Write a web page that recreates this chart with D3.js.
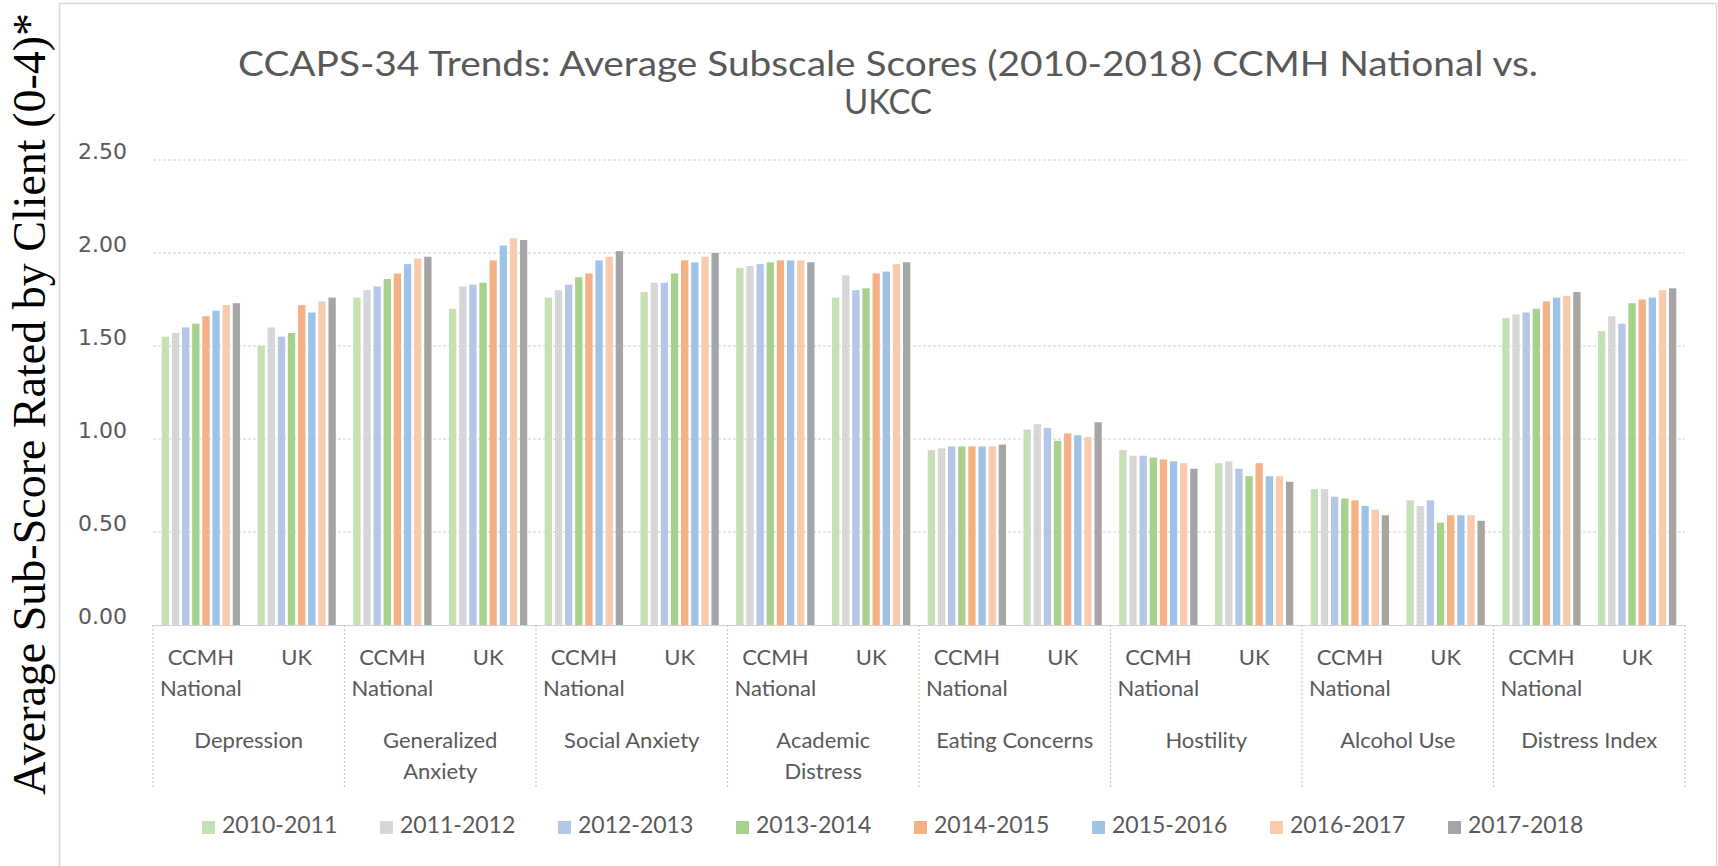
<!DOCTYPE html>
<html>
<head>
<meta charset="utf-8">
<script src="https://cdn.jsdelivr.net/npm/d3@7"></script>
<style>
  body { margin: 0; background: #fff; }
  svg text { font-family: Lato, "Open Sans", sans-serif; }
</style>
</head>
<body>
<svg class="chart" width="1718" height="866"></svg>
<script>
// categories and the two groups inside each one
const categories = ["Depression", "Generalized\nAnxiety", "Social Anxiety", "Academic\nDistress",
  "Eating Concerns", "Hostility", "Alcohol Use", "Distress Index"];
const groups = ["CCMH\nNational", "UK"];
const years = ["2010-2011", "2011-2012", "2012-2013", "2013-2014", "2014-2015", "2015-2016", "2016-2017", "2017-2018"];
const yTicks = [0, 0.5, 1, 1.5, 2, 2.5];

// one array per category and group, values in year order
const depressionCCMH = [1.55, 1.57, 1.60, 1.62, 1.66, 1.69, 1.72, 1.73];
const depressionUK   = [1.50, 1.60, 1.55, 1.57, 1.72, 1.68, 1.74, 1.76];
const genAnxCCMH     = [1.76, 1.80, 1.82, 1.86, 1.89, 1.94, 1.97, 1.98];
const genAnxUK       = [1.70, 1.82, 1.83, 1.84, 1.96, 2.04, 2.08, 2.07];
const socAnxCCMH     = [1.76, 1.80, 1.83, 1.87, 1.89, 1.96, 1.98, 2.01];
const socAnxUK       = [1.79, 1.84, 1.84, 1.89, 1.96, 1.95, 1.98, 2.00];
const academicCCMH   = [1.92, 1.93, 1.94, 1.95, 1.96, 1.96, 1.96, 1.95];
const academicUK     = [1.76, 1.88, 1.80, 1.81, 1.89, 1.90, 1.94, 1.95];
const eatingCCMH     = [0.94, 0.95, 0.96, 0.96, 0.96, 0.96, 0.96, 0.97];
const eatingUK       = [1.05, 1.08, 1.06, 0.99, 1.03, 1.02, 1.01, 1.09];
const hostilityCCMH  = [0.94, 0.91, 0.91, 0.90, 0.89, 0.88, 0.87, 0.84];
const hostilityUK    = [0.87, 0.88, 0.84, 0.80, 0.87, 0.80, 0.80, 0.77];
const alcoholCCMH    = [0.73, 0.73, 0.69, 0.68, 0.67, 0.64, 0.62, 0.59];
const alcoholUK      = [0.67, 0.64, 0.67, 0.55, 0.59, 0.59, 0.59, 0.56];
const distressCCMH   = [1.65, 1.67, 1.68, 1.70, 1.74, 1.76, 1.77, 1.79];
const distressUK     = [1.58, 1.66, 1.62, 1.73, 1.75, 1.76, 1.80, 1.81];

const seriesByCategory = [
  [depressionCCMH, depressionUK], [genAnxCCMH, genAnxUK], [socAnxCCMH, socAnxUK],
  [academicCCMH, academicUK], [eatingCCMH, eatingUK], [hostilityCCMH, hostilityUK],
  [alcoholCCMH, alcoholUK], [distressCCMH, distressUK]
];

const colors = ["#c5e0b4", "#d9d9d9", "#b4c7e7", "#a9d18e", "#f4b183", "#9dc3e6", "#f8cbad", "#a5a5a5"];

let svg = d3.select(".chart");

let plotLeft = 153, plotRight = 1685, plotTop = 160, plotBottom = 625;

// dotted fill used by the 2011-2012 bars
let defs = svg.append("defs");
let pat = defs.append("pattern")
  .attr("id", "dots")
  .attr("width", 4).attr("height", 4)
  .attr("patternUnits", "userSpaceOnUse");
pat.append("rect").attr("width", 4).attr("height", 4).attr("fill", "#dadada");
pat.append("rect").attr("x", 1).attr("y", 1).attr("width", 1.3).attr("height", 1.3).attr("fill", "#c4c4c4");
pat.append("rect").attr("x", 3).attr("y", 3).attr("width", 1.3).attr("height", 1.3).attr("fill", "#c8c8c8");

function fillOf(i) {
  return i === 1 ? "url(#dots)" : colors[i];
}

// chart area frame
svg.append("rect")
  .attr("x", 59.5).attr("y", 3.5)
  .attr("width", 1657).attr("height", 900)
  .attr("fill", "none")
  .attr("stroke", "#d9d9d9")
  .attr("stroke-width", 1.5);

let y = d3.scaleLinear().domain([0, 2.5]).range([plotBottom, plotTop]);

let x0 = d3.scaleBand().domain(categories).range([plotLeft, plotRight]);
let x1 = d3.scaleBand().domain(groups).range([0, x0.bandwidth()]);
let x2 = d3.scaleBand().domain(years).range([0, x1.bandwidth()])
  .paddingInner(0.28).paddingOuter(0.86);

// gridlines
svg.append("g")
  .selectAll("line")
  .data(yTicks.filter(d => d > 0))
  .enter().append("line")
  .attr("x1", plotLeft).attr("x2", plotRight)
  .attr("y1", d => y(d)).attr("y2", d => y(d))
  .attr("stroke", "#d0d0d0")
  .attr("stroke-width", 1.2)
  .attr("stroke-dasharray", "3,2");

// y axis labels
let yAxis = d3.axisLeft(y).tickValues(yTicks).tickFormat(d3.format(".2f")).tickSize(0).tickPadding(26);
let yg = svg.append("g").attr("transform", `translate(${plotLeft},0)`).call(yAxis);
yg.select(".domain").remove();
yg.selectAll("text")
  .style("font-family", "'DejaVu Sans', Verdana, sans-serif")
  .style("font-size", "22px")
  .attr("fill", "#595959")
  .attr("dy", "-0.05em");

// bars
let cat = svg.append("g")
  .selectAll("g")
  .data(categories)
  .enter().append("g")
  .attr("transform", d => `translate(${x0(d)},0)`);

cat.each(function (c, ci) {
  d3.select(this).selectAll("g")
    .data(groups)
    .enter().append("g")
    .attr("transform", g => `translate(${x1(g)},0)`)
    .each(function (g, gi) {
      let vals = seriesByCategory[ci][gi];
      d3.select(this).selectAll("rect")
        .data(vals)
        .enter().append("rect")
        .attr("x", (v, i) => x2(years[i]))
        .attr("width", x2.bandwidth())
        .attr("y", v => y(v))
        .attr("height", v => plotBottom - y(v))
        .attr("fill", (v, i) => fillOf(i));
    });
});

// category axis: baseline and dividers
svg.append("line")
  .attr("x1", plotLeft).attr("x2", plotRight)
  .attr("y1", plotBottom + 0.5).attr("y2", plotBottom + 0.5)
  .attr("stroke", "#d0d0d0")
  .attr("stroke-width", 1.2);

let dividers = categories.map(c => x0(c)).concat([plotRight]);
svg.append("g")
  .selectAll("line")
  .data(dividers)
  .enter().append("line")
  .attr("x1", d => d).attr("x2", d => d)
  .attr("y1", plotBottom).attr("y2", 788)
  .attr("stroke", "#c8c8c8")
  .attr("stroke-width", 1.2)
  .attr("stroke-dasharray", "2,2");

// group labels (CCMH National / UK) and category names
cat.each(function (c) {
  d3.select(this).selectAll("text.grp")
    .data(groups)
    .enter().append("text")
    .attr("class", "grp")
    .attr("text-anchor", "middle")
    .attr("fill", "#595959")
    .style("font-size", "22px")
    .each(function (g) {
      let t = d3.select(this);
      g.split("\n").forEach((line, li) => {
        t.append("tspan")
          .attr("x", x1(g) + x1.bandwidth() / 2)
          .attr("y", 665 + li * 31)
          .text(line);
      });
    });

  let ct = d3.select(this).append("text")
    .attr("text-anchor", "middle")
    .attr("fill", "#595959")
    .style("font-size", "22px");
  c.split("\n").forEach((line, li) => {
    ct.append("tspan")
      .attr("x", x0.bandwidth() / 2)
      .attr("y", 748 + li * 31)
      .text(line);
  });
});

// title
let title = svg.append("g")
  .attr("fill", "#595959")
  .style("font-size", "35px");
title.append("text")
  .attr("text-anchor", "middle")
  .attr("x", 888).attr("y", 76)
  .attr("textLength", 1300)
  .attr("lengthAdjust", "spacingAndGlyphs")
  .text("CCAPS-34 Trends: Average Subscale Scores (2010-2018) CCMH National vs.");
title.append("text")
  .attr("text-anchor", "middle")
  .attr("x", 888).attr("y", 114)
  .attr("textLength", 88)
  .attr("lengthAdjust", "spacingAndGlyphs")
  .text("UKCC");

// y axis title
svg.append("text")
  .attr("transform", "translate(45,404) rotate(-90)")
  .attr("text-anchor", "middle")
  .attr("fill", "#000")
  .style("font-family", "'Liberation Serif', 'Times New Roman', serif")
  .style("font-size", "46px")
  .text("Average Sub-Score Rated by Client (0-4)*");

// legend
let legend = svg.append("g")
  .selectAll("g")
  .data(years)
  .enter().append("g")
  .attr("transform", (d, i) => `translate(${202 + i * 178},821)`);

legend.append("rect")
  .attr("width", 13).attr("height", 13)
  .attr("fill", (d, i) => fillOf(i));

legend.append("text")
  .attr("x", 20).attr("y", 12)
  .attr("fill", "#595959")
  .style("font-size", "23px")
  .text(d => d);
</script>
</body>
</html>
